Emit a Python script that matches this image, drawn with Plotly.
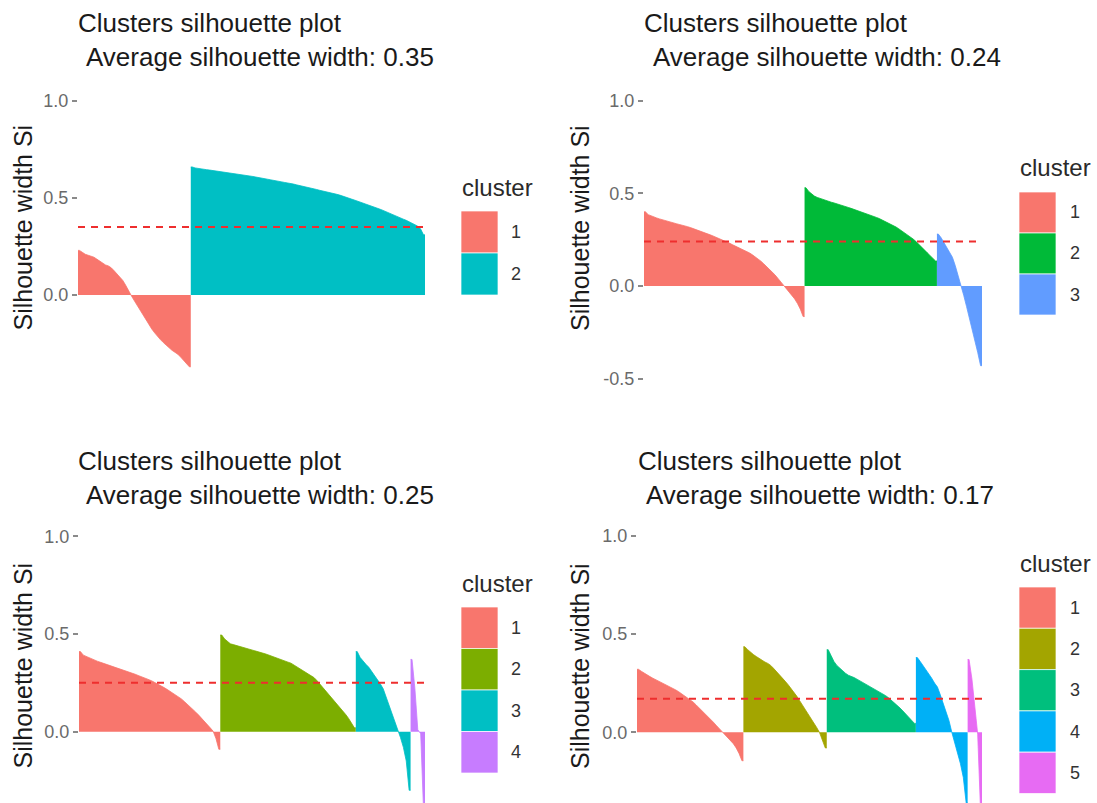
import plotly.graph_objects as go

W, H = 1097, 803
FONT = "Liberation Sans, Arial, Helvetica, sans-serif"

# ---------------- data (silhouette widths, sorted within cluster) ----------------
k2_c1 = [0.23, 0.22, 0.21, 0.205, 0.20, 0.195, 0.185, 0.175, 0.165, 0.155, 0.15, 0.14, 0.125,
         0.11, 0.09, 0.075, 0.05, 0.02, -0.005, -0.03, -0.055, -0.075, -0.10, -0.13, -0.155,
         -0.175, -0.195, -0.215, -0.23, -0.245, -0.26, -0.27, -0.285, -0.295, -0.305, -0.32,
         -0.335, -0.35, -0.37]
k2_c2 = [0.66, 0.655, 0.652, 0.65, 0.648, 0.646, 0.644, 0.642, 0.64, 0.638, 0.636, 0.634, 0.632,
         0.63, 0.628, 0.626, 0.624, 0.622, 0.619, 0.617, 0.614, 0.611, 0.608, 0.606, 0.603, 0.600,
         0.597, 0.594, 0.592, 0.589, 0.586, 0.583, 0.580, 0.578, 0.575, 0.572, 0.568, 0.565, 0.561,
         0.558, 0.554, 0.551, 0.547, 0.544, 0.540, 0.537, 0.533, 0.530, 0.526, 0.523, 0.519, 0.515,
         0.511, 0.506, 0.500, 0.495, 0.490, 0.485, 0.480, 0.475, 0.470, 0.465, 0.460, 0.455, 0.449,
         0.442, 0.436, 0.429, 0.423, 0.416, 0.410, 0.404, 0.397, 0.391, 0.385, 0.378, 0.372, 0.365,
         0.355, 0.34, 0.31]
k2_avg = 0.35

k3_c1 = [0.40, 0.385, 0.378, 0.372, 0.367, 0.362, 0.357, 0.352, 0.348, 0.344, 0.340, 0.336, 0.332,
         0.329, 0.325, 0.320, 0.315, 0.310, 0.305, 0.300, 0.294, 0.288, 0.282, 0.276, 0.270, 0.264,
         0.258, 0.252, 0.245, 0.238, 0.230, 0.222, 0.215, 0.208, 0.201, 0.195, 0.188, 0.178, 0.168,
         0.158, 0.146, 0.134, 0.120, 0.106, 0.092, 0.076, 0.060, 0.042, 0.024, 0.005, -0.015,
         -0.032, -0.050, -0.07, -0.095, -0.125, -0.165]
k3_c2 = [0.53, 0.51, 0.495, 0.485, 0.478, 0.472, 0.466, 0.461, 0.456, 0.452, 0.448, 0.444, 0.439,
         0.434, 0.429, 0.424, 0.419, 0.414, 0.408, 0.403, 0.398, 0.393, 0.388, 0.382, 0.376, 0.370,
         0.364, 0.357, 0.350, 0.343, 0.336, 0.327, 0.318, 0.308, 0.298, 0.288, 0.277, 0.266, 0.254,
         0.241, 0.227, 0.212, 0.197, 0.180, 0.165, 0.150, 0.135]
k3_c3 = [0.28, 0.26, 0.235, 0.21, 0.185, 0.155, 0.11, 0.06, 0.005, -0.05, -0.11, -0.17, -0.23,
         -0.29, -0.36, -0.43]
k3_avg = 0.24

k4_c1 = [0.41, 0.392, 0.385, 0.378, 0.372, 0.366, 0.360, 0.355, 0.350, 0.346, 0.342, 0.337, 0.332,
         0.327, 0.322, 0.316, 0.311, 0.305, 0.300, 0.294, 0.288, 0.283, 0.278, 0.272, 0.265, 0.258,
         0.251, 0.243, 0.235, 0.226, 0.217, 0.208, 0.199, 0.190, 0.180, 0.168, 0.155, 0.142, 0.128,
         0.115, 0.100, 0.085, 0.070, 0.055, 0.038, 0.020, 0.003, -0.035, -0.09]
k4_c2 = [0.495, 0.475, 0.46, 0.45, 0.446, 0.442, 0.438, 0.434, 0.429, 0.425, 0.421, 0.417, 0.413,
         0.409, 0.404, 0.399, 0.394, 0.388, 0.383, 0.378, 0.372, 0.367, 0.362, 0.356, 0.351, 0.342,
         0.333, 0.324, 0.314, 0.305, 0.296, 0.286, 0.277, 0.262, 0.245, 0.228, 0.211, 0.194, 0.177,
         0.160, 0.142, 0.124, 0.106, 0.088, 0.068, 0.045, 0.02]
k4_c3 = [0.41, 0.38, 0.36, 0.345, 0.33, 0.31, 0.285, 0.265, 0.245, 0.22, 0.18, 0.14, 0.10, 0.05,
         0.01, -0.03, -0.08, -0.15, -0.30]
k4_c4 = [0.37, 0.22, 0.01, -0.01, -0.40]
k4_avg = 0.25

k5_c1 = [0.32, 0.31, 0.30, 0.29, 0.283, 0.275, 0.268, 0.26, 0.253, 0.245, 0.238, 0.23, 0.222,
         0.215, 0.206, 0.196, 0.186, 0.176, 0.165, 0.154, 0.14, 0.126, 0.112, 0.098, 0.083, 0.068,
         0.052, 0.036, 0.02, 0.002, -0.012, -0.026, -0.042, -0.058, -0.08, -0.108, -0.145]
k5_c2 = [0.435, 0.42, 0.405, 0.395, 0.385, 0.375, 0.366, 0.357, 0.35, 0.34, 0.325, 0.31, 0.294,
         0.277, 0.26, 0.243, 0.225, 0.205, 0.185, 0.162, 0.14, 0.118, 0.095, 0.072, 0.048, 0.024,
         -0.002, -0.04, -0.08]
k5_c3 = [0.42, 0.39, 0.36, 0.34, 0.325, 0.312, 0.30, 0.29, 0.285, 0.278, 0.27, 0.262, 0.254,
         0.246, 0.238, 0.229, 0.22, 0.212, 0.205, 0.196, 0.186, 0.175, 0.163, 0.15, 0.137, 0.123,
         0.108, 0.093, 0.078, 0.062, 0.045]
k5_c4 = [0.38, 0.36, 0.34, 0.32, 0.30, 0.275, 0.25, 0.23, 0.19, 0.15, 0.11, 0.06, 0.0, -0.05,
         -0.10, -0.16, -0.23, -0.36]
k5_c5 = [0.37, 0.27, 0.12, -0.01, -0.40]
k5_avg = 0.17

cluster_labels = ["1", "2", "3", "4", "5"]
y_ticks = [-0.5, 0.0, 0.5, 1.0]
y_tick_text = ["-0.5", "0.0", "0.5", "1.0"]

pal2 = ["#F8766D", "#00BFC4"]
pal3 = ["#F8766D", "#00BA38", "#619CFF"]
pal4 = ["#F8766D", "#7CAE00", "#00BFC4", "#C77CFF"]
pal5 = ["#F8766D", "#A3A500", "#00BF7D", "#00B0F6", "#E76BF3"]

# ---------------- layout (pixel geometry) ----------------
def fx(px):
    return px / W

def fy(px):
    return 1 - px / H

panels = [
    dict(clusters=[k2_c1, k2_c2], avg=k2_avg, pal=pal2,
         xpx=(78, 425), ypx=(91.3, 372.6), yr=(-0.40, 1.05),
         title_y=(23, 57), title_x=(76, 84), axt=(22.5, 228),
         leg_x=460, leg_title_y=187, key_top=211, key_h=42, lab_x=516),
    dict(clusters=[k3_c1, k3_c2, k3_c3], avg=k3_avg, pal=pal3,
         xpx=(644, 982), ypx=(91.4, 387.9), yr=(-0.55, 1.05),
         title_y=(23, 57), title_x=(642, 651), axt=(580, 228),
         leg_x=1018, leg_title_y=168, key_top=192, key_h=41, lab_x=1075),
    dict(clusters=[k4_c1, k4_c2, k4_c3, k4_c4], avg=k4_avg, pal=pal4,
         xpx=(79, 425), ypx=(526.6, 803), yr=(-0.365, 1.05),
         title_y=(461, 495), title_x=(76, 84), axt=(22.5, 666),
         leg_x=460, leg_title_y=583, key_top=607, key_h=41.5, lab_x=516),
    dict(clusters=[k5_c1, k5_c2, k5_c3, k5_c4, k5_c5], avg=k5_avg, pal=pal5,
         xpx=(637, 982), ypx=(525.8, 803), yr=(-0.36, 1.05),
         title_y=(461, 495), title_x=(636, 644), axt=(580, 666),
         leg_x=1018, leg_title_y=563, key_top=587, key_h=41.3, lab_x=1075),
]

fig = go.Figure()
shapes = []
annotations = []
layout_axes = {}

for p_i, p in enumerate(panels, start=1):
    xa = "x" if p_i == 1 else f"x{p_i}"
    ya = "y" if p_i == 1 else f"y{p_i}"
    n_total = sum(len(c) for c in p["clusters"])
    start = 1
    for c_i, vals in enumerate(p["clusters"]):
        col = p["pal"][c_i]
        n = len(vals)
        centers = list(range(start, start + n))
        # each observation occupies one slot; the area spans the full slots of the cluster
        xs = [start - 0.5] + centers + [start + n - 0.5]
        ys = [vals[0]] + list(vals) + [vals[-1]]
        fig.add_trace(go.Scatter(
            x=xs, y=ys, mode="lines", fill="tozeroy", fillcolor=col,
            line=dict(color=col, width=0.8), xaxis=xa, yaxis=ya,
            showlegend=False, name=cluster_labels[c_i], hoverinfo="skip"))
        start += n

    ymin, ymax = p["yr"]
    tv = [t for t in y_ticks if ymin <= t <= ymax]
    tt = [y_tick_text[y_ticks.index(t)] for t in tv]
    xkey = "xaxis" if p_i == 1 else f"xaxis{p_i}"
    ykey = "yaxis" if p_i == 1 else f"yaxis{p_i}"
    layout_axes[xkey] = dict(domain=[fx(p["xpx"][0]), fx(p["xpx"][1])],
                             range=[0.5, n_total + 0.5], anchor=ya,
                             showticklabels=False, showgrid=False, zeroline=False,
                             showline=False, ticks="", fixedrange=True)
    layout_axes[ykey] = dict(domain=[max(0, fy(p["ypx"][1])), fy(p["ypx"][0])],
                             range=[ymin, ymax], anchor=xa,
                             tickvals=tv, ticktext=tt, ticks="outside", ticklen=5,
                             tickwidth=1.5, tickcolor="#8a8a8a",
                             tickfont=dict(family=FONT, size=18, color="#6a6a6a"),
                             showgrid=False, zeroline=False, showline=False, fixedrange=True)

    # average silhouette line
    shapes.append(dict(type="line", xref=f"{xa} domain", yref=ya, x0=0, x1=1,
                       y0=p["avg"], y1=p["avg"],
                       line=dict(color="#EE2E2E", width=2, dash="7px,6px"), layer="above"))

    # titles
    annotations.append(dict(text="Clusters silhouette plot", xref="paper", yref="paper",
                            x=fx(p["title_x"][0]), y=fy(p["title_y"][0]), xanchor="left",
                            yanchor="middle", showarrow=False,
                            font=dict(family=FONT, size=26, color="#1a1a1a")))
    annotations.append(dict(text=f"Average silhouette width: {p['avg']:.2f}", xref="paper",
                            yref="paper", x=fx(p["title_x"][1]), y=fy(p["title_y"][1]),
                            xanchor="left", yanchor="middle", showarrow=False,
                            font=dict(family=FONT, size=26, color="#1a1a1a")))
    # y axis title
    annotations.append(dict(text="Silhouette width Si", xref="paper", yref="paper",
                            x=fx(p["axt"][0]), y=fy(p["axt"][1]), xanchor="center",
                            yanchor="middle", textangle=-90, showarrow=False,
                            font=dict(family=FONT, size=25, color="#1a1a1a")))
    # legend
    annotations.append(dict(text="cluster", xref="paper", yref="paper",
                            x=fx(p["leg_x"]), y=fy(p["leg_title_y"]), xanchor="left",
                            yanchor="middle", showarrow=False,
                            font=dict(family=FONT, size=24, color="#2a2a2a")))
    for c_i, col in enumerate(p["pal"]):
        top = p["key_top"] + c_i * p["key_h"]
        bot = top + p["key_h"]
        shapes.append(dict(type="rect", xref="paper", yref="paper",
                           x0=fx(p["leg_x"] + 1), x1=fx(p["leg_x"] + 38),
                           y0=fy(bot), y1=fy(top), fillcolor=col,
                           line=dict(color="rgba(255,255,255,0.7)", width=1)))
        annotations.append(dict(text=cluster_labels[c_i], xref="paper", yref="paper",
                                x=fx(p["lab_x"]), y=fy((top + bot) / 2), xanchor="center",
                                yanchor="middle", showarrow=False,
                                font=dict(family=FONT, size=18, color="#333333")))

fig.update_layout(
    width=W, height=H, margin=dict(l=0, r=0, t=0, b=0),
    paper_bgcolor="white", plot_bgcolor="white",
    showlegend=False,
    shapes=shapes, annotations=annotations,
    font=dict(family=FONT),
    **layout_axes,
)

fig.write_html("out.html")
